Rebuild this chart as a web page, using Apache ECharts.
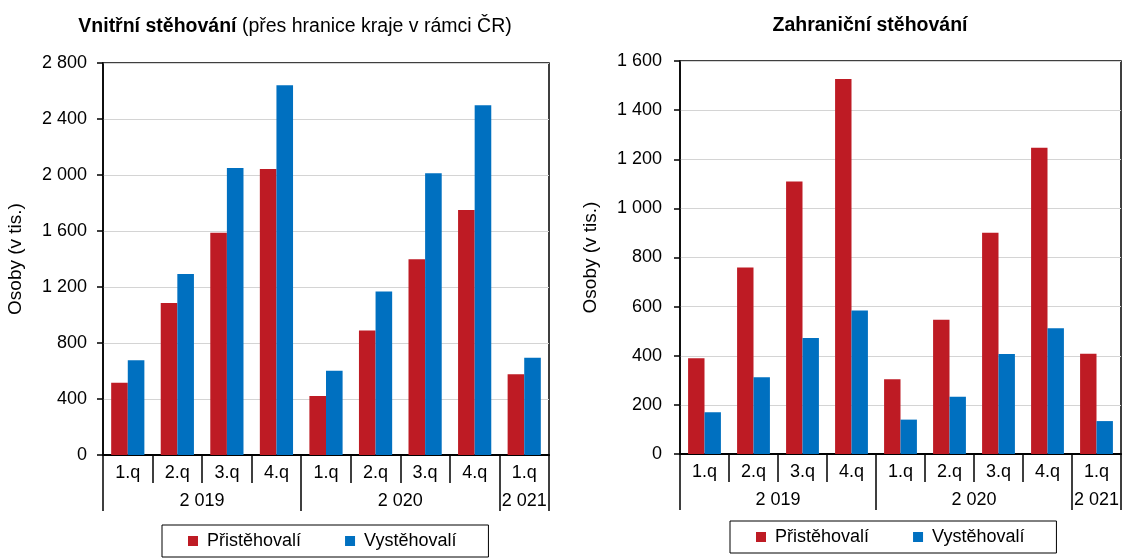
<!DOCTYPE html>
<html>
<head>
<meta charset="utf-8">
<script src="https://cdn.jsdelivr.net/npm/echarts@6/dist/echarts.min.js"></script>
<style>
html,body{margin:0;padding:0;background:#fff;}
#c{width:1124px;height:560px;}
</style>
</head>
<body>
<div id="c"></div>
<script>
// ---- data ----
var quarters = ['1.q','2.q','3.q','4.q','1.q','2.q','3.q','4.q','1.q'];
var years = ['2 019','2 020','2 021'];
var yearSpans = [4, 4, 1];
var seriesNames = ['Přistěhovalí','Vystěhovalí'];
var internalIn  = [516, 1086, 1588, 2043, 421, 890, 1398, 1750, 576];
var internalOut = [676, 1293, 2050, 2641, 602, 1167, 2012, 2498, 695];
var foreignIn   = [390, 759, 1109, 1527, 304, 547, 901, 1247, 408];
var foreignOut  = [170, 312, 472, 584, 140, 233, 407, 512, 134];
var leftTitleBold = 'Vnitřní stěhování';
var leftTitleRest = ' (přes hranice kraje v rámci ČR)';
var rightTitle = 'Zahraniční stěhování';
var yName = 'Osoby (v tis.)';

// ---- derived ----
var boundaries = [0], centers = [];
(function(){ var acc = 0; for (var i = 0; i < yearSpans.length; i++) { centers.push(acc + yearSpans[i] / 2); acc += yearSpans[i]; boundaries.push(acc); } })();
function yearLabel(v){ for (var i = 0; i < centers.length; i++) if (Math.abs(centers[i] - v) < 1e-6) return years[i]; return ''; }
function fmt(v){ return String(v).replace(/\B(?=(\d{3})+(?!\d))/g, ' '); }

var FONT = '"Liberation Sans", Arial, sans-serif';
var RED = '#BE1B24', BLUE = '#0070C0';

function yAxis(gi, max, interval, margin, nameGap){
  return {
    type:'value', gridIndex:gi, min:0, max:max, interval:interval,
    name: yName, nameLocation:'middle', nameGap:nameGap, nameRotate:90,
    nameTextStyle:{color:'#000', fontSize:19, fontFamily:FONT},
    axisLine:{show:true, lineStyle:{color:'#000', width:1.5}},
    axisTick:{show:true, length:6, lineStyle:{color:'#000', width:1.5}},
    axisLabel:{color:'#000', fontSize:18, fontFamily:FONT, margin:margin, formatter:fmt},
    splitLine:{show:true, lineStyle:{color:'#D4D4D4', width:1}}
  };
}
function qAxis(gi){
  return {
    type:'category', gridIndex:gi, data:quarters, position:'bottom',
    axisLine:{show:true, lineStyle:{color:'#000', width:2}},
    axisTick:{show:true, interval:0, length:28, lineStyle:{color:'#000', width:1.5}},
    axisLabel:{interval:0, color:'#000', fontSize:18, fontFamily:FONT, margin:9}
  };
}
function yrAxis(gi){
  return {
    type:'value', gridIndex:gi, min:0, max:boundaries[boundaries.length-1], position:'bottom',
    axisLine:{show:false},
    splitLine:{show:false},
    axisTick:{show:true, length:56, customValues:boundaries, lineStyle:{color:'#000', width:1.5}},
    axisLabel:{show:true, customValues:centers, color:'#000', fontSize:18, fontFamily:FONT, margin:37, formatter:yearLabel}
  };
}
function bars(name, data, color, xi, yi){
  return {type:'bar', name:name, data:data, xAxisIndex:xi, yAxisIndex:yi,
    itemStyle:{color:color},
    barGap:'0%', barCategoryGap:'33%', animation:false};
}

var chart = echarts.init(document.getElementById('c'), null, {renderer:'canvas'});
chart.setOption({
  animation:false,
  backgroundColor:'#fff',
  textStyle:{fontFamily:FONT},
  title:[
    {text:'{b|' + leftTitleBold + '}' + leftTitleRest, left:290, top:12, textAlign:'center',
     textStyle:{fontSize:19.5, fontWeight:'normal', color:'#000', fontFamily:FONT,
       rich:{b:{fontSize:19.5, fontWeight:'bold', color:'#000', fontFamily:FONT}}}},
    {text:rightTitle, left:865, top:11, textAlign:'center',
     textStyle:{fontSize:19.5, fontWeight:'bold', color:'#000', fontFamily:FONT}}
  ],
  legend:[
    {data:seriesNames, left:162, top:525, orient:'horizontal', icon:'rect', itemWidth:10, itemHeight:10, itemGap:44,
     borderColor:'#000', borderWidth:1, padding:[7,32,7,26], textStyle:{fontSize:18, color:'#000', fontFamily:FONT, padding:[0,0,0,4]}},
    {data:seriesNames, left:730, top:521, orient:'horizontal', icon:'rect', itemWidth:10, itemHeight:10, itemGap:44,
     borderColor:'#000', borderWidth:1, padding:[7,32,7,26], textStyle:{fontSize:18, color:'#000', fontFamily:FONT, padding:[0,0,0,4]}}
  ],
  grid:[
    {left:103, right:575, top:63, bottom:105, show:true, borderColor:'#000', borderWidth:1.5, containLabel:false},
    {left:680, right:3, top:61, bottom:106, show:true, borderColor:'#000', borderWidth:1.5, containLabel:false}
  ],
  xAxis:[qAxis(0), yrAxis(0), qAxis(1), yrAxis(1)],
  yAxis:[yAxis(0, 2800, 400, 16, 78), yAxis(1, 1600, 200, 18, 80)],
  series:[
    bars(seriesNames[0], internalIn, RED, 0, 0),
    bars(seriesNames[1], internalOut, BLUE, 0, 0),
    bars(seriesNames[0], foreignIn, RED, 2, 1),
    bars(seriesNames[1], foreignOut, BLUE, 2, 1)
  ]
});
</script>
</body>
</html>
